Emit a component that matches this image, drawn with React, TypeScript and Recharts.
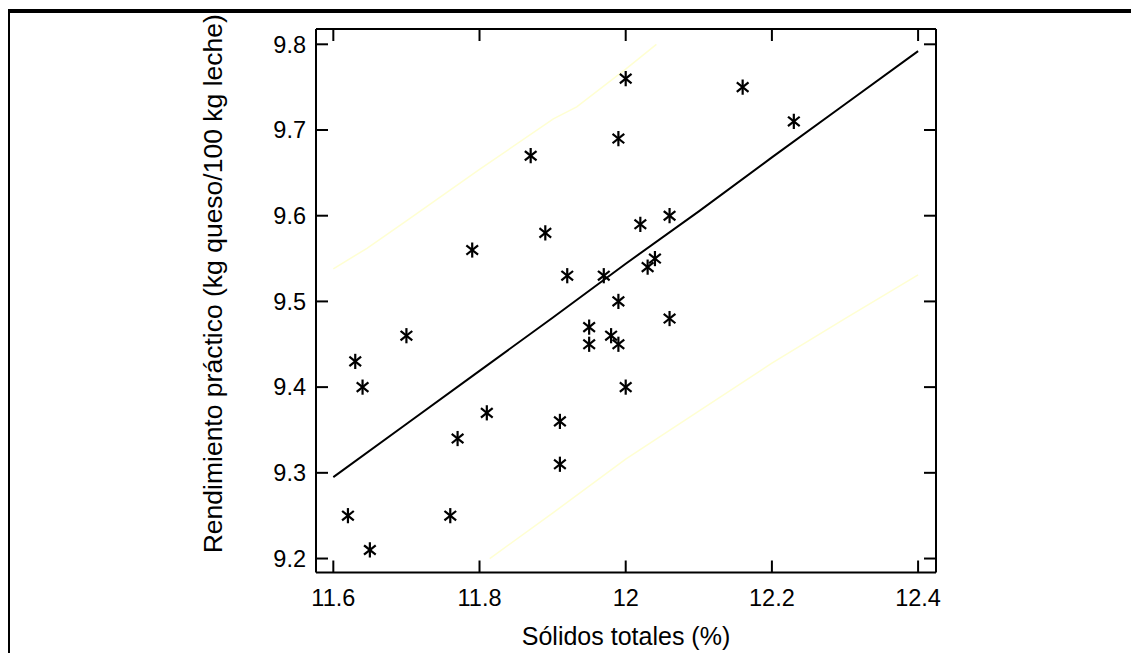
import React from 'react';
import { ComposedChart, XAxis, YAxis, Scatter, Line } from 'recharts';

// Observed data: Sólidos totales (%) vs Rendimiento práctico
const solidosTotales = [11.62, 11.65, 11.63, 11.64, 11.70, 11.76, 11.77, 11.79, 11.81, 11.87, 11.89, 11.91, 11.91, 11.92, 11.95, 11.95, 11.97, 11.98, 11.99, 11.99, 11.99, 12.00, 12.00, 12.02, 12.03, 12.04, 12.06, 12.06, 12.16, 12.23];
const rendimiento = [9.25, 9.21, 9.43, 9.40, 9.46, 9.25, 9.34, 9.56, 9.37, 9.67, 9.58, 9.36, 9.31, 9.53, 9.47, 9.45, 9.53, 9.46, 9.50, 9.45, 9.69, 9.76, 9.40, 9.59, 9.54, 9.55, 9.60, 9.48, 9.75, 9.71];

// Fitted line
const regX = [11.6, 11.7, 11.8, 11.9, 12.0, 12.1, 12.2, 12.3, 12.4];
const regY = [9.295, 9.357, 9.419, 9.481, 9.544, 9.605, 9.668, 9.730, 9.792];

// Prediction band (upper / lower)
const upperX = [11.6, 11.646, 11.7, 11.8, 11.901, 11.933, 12.0, 12.042];
const upperY = [9.538, 9.562, 9.594, 9.654, 9.713, 9.727, 9.771, 9.80];
const lowerX = [11.814, 11.9, 12.0, 12.1, 12.2, 12.3, 12.4];
const lowerY = [9.2, 9.253, 9.316, 9.372, 9.428, 9.48, 9.531];

const xTicks = [11.6, 11.8, 12, 12.2, 12.4];
const yTicks = [9.2, 9.3, 9.4, 9.5, 9.6, 9.7, 9.8];
const xDomain = [11.5763, 12.4245];
const yDomain = [9.1837, 9.81785];

const xTitle = 'Sólidos totales (%)';
const yTitle = 'Rendimiento práctico (kg queso/100 kg leche)';

const zip = (xs: number[], ys: number[]) => xs.map((x, i) => ({ x, y: ys[i] }));
const points = zip(solidosTotales, rendimiento);
const regData = zip(regX, regY);
const upperData = zip(upperX, upperY);
const lowerData = zip(lowerX, lowerY);

const FONT = '"Liberation Sans", Arial, sans-serif';
const TICK_LEN = 12;
const LEFT_MARGIN = 10;
const BOTTOM_MARGIN = 17;

const LeftTick = (props: any) => {
  const { x, y, payload } = props;
  return (
    <g>
      <line x1={x + LEFT_MARGIN} x2={x + LEFT_MARGIN + TICK_LEN} y1={y} y2={y} stroke="#000" strokeWidth={2} />
      <text x={x} y={y} dy="0.355em" textAnchor="end" fontSize={23.5} fontFamily={FONT} fill="#000">
        {String(payload.value)}
      </text>
    </g>
  );
};

const BottomTick = (props: any) => {
  const { x, y, payload } = props;
  return (
    <g>
      <line x1={x} x2={x} y1={y - BOTTOM_MARGIN} y2={y - BOTTOM_MARGIN - TICK_LEN} stroke="#000" strokeWidth={2} />
      <text x={x} y={y} dy="0.71em" textAnchor="middle" fontSize={23.5} fontFamily={FONT} fill="#000">
        {String(payload.value)}
      </text>
    </g>
  );
};

const TopTick = (props: any) => {
  const { x, y } = props;
  return <line x1={x} x2={x} y1={y} y2={y + TICK_LEN} stroke="#000" strokeWidth={2} />;
};

const RightTick = (props: any) => {
  const { x, y } = props;
  return <line x1={x} x2={x - TICK_LEN} y1={y} y2={y} stroke="#000" strokeWidth={2} />;
};

const Asterisk = (props: any) => {
  const { cx, cy } = props;
  if (cx == null || cy == null) return <g />;
  return (
    <g stroke="#000" strokeWidth={2.2} strokeLinecap="square">
      <line x1={cx} x2={cx} y1={cy - 6.5} y2={cy + 6.5} />
      <line x1={cx - 5} x2={cx + 5} y1={cy - 4} y2={cy + 4} />
      <line x1={cx - 5} x2={cx + 5} y1={cy + 4} y2={cy - 4} />
    </g>
  );
};

const renderXTitle = (p: any) => {
  const vb = p.viewBox || {};
  return (
    <text x={vb.x + vb.width / 2} y={vb.y + 72.5} textAnchor="middle" fontSize={25} fontFamily={FONT} fill="#000">
      {xTitle}
    </text>
  );
};

const renderYTitle = (p: any) => {
  const vb = p.viewBox || {};
  const cx = 205;
  const cy = vb.y + vb.height / 2 - 17;
  return (
    <text x={cx} y={cy} transform={`rotate(-90 ${cx} ${cy})`} dy="0.355em" textAnchor="middle" fontSize={26.5} fontFamily={FONT} fill="#000">
      {yTitle}
    </text>
  );
};

export default function App() {
  return (
    <div style={{ position: 'relative', width: 1123, height: 645 }}>
      <div
        style={{
          position: 'absolute',
          left: -2,
          top: 1,
          width: 1133,
          height: 652,
          borderLeft: '4px solid #000',
          borderTop: '4px solid #000',
          boxSizing: 'border-box',
          pointerEvents: 'none',
        }}
      />
      <ComposedChart width={1123} height={645} margin={{ top: 20, right: 194, bottom: 0, left: 0 }}>
        <XAxis
          xAxisId="b"
          type="number"
          dataKey="x"
          domain={xDomain}
          ticks={xTicks}
          allowDataOverflow
          height={80.5}
          axisLine={{ stroke: '#000', strokeWidth: 2 }}
          tickLine={false}
          tickSize={0}
          tickMargin={BOTTOM_MARGIN}
          tick={<BottomTick />}
          interval={0}
          label={{ content: renderXTitle }}
        />
        <XAxis
          xAxisId="t"
          orientation="top"
          type="number"
          dataKey="x"
          domain={xDomain}
          ticks={xTicks}
          allowDataOverflow
          height={1}
          axisLine={{ stroke: '#000', strokeWidth: 2 }}
          tickLine={false}
          tickSize={0}
          tickMargin={0}
          tick={<TopTick />}
          interval={0}
        />
        <YAxis
          yAxisId="l"
          type="number"
          dataKey="y"
          domain={yDomain}
          ticks={yTicks}
          allowDataOverflow
          width={308}
          axisLine={{ stroke: '#000', strokeWidth: 2 }}
          tickLine={false}
          tickSize={0}
          tickMargin={LEFT_MARGIN}
          tick={<LeftTick />}
          interval={0}
          label={{ content: renderYTitle }}
        />
        <YAxis
          yAxisId="r"
          orientation="right"
          type="number"
          dataKey="y"
          domain={yDomain}
          ticks={yTicks}
          allowDataOverflow
          width={1}
          axisLine={{ stroke: '#000', strokeWidth: 2 }}
          tickLine={false}
          tickSize={0}
          tickMargin={0}
          tick={<RightTick />}
          interval={0}
        />
        <Line data={upperData} xAxisId="b" yAxisId="l" dataKey="y" type="linear" stroke="#FFFFD2" strokeWidth={1.5} dot={false} isAnimationActive={false} />
        <Line data={lowerData} xAxisId="b" yAxisId="l" dataKey="y" type="linear" stroke="#FFFFD2" strokeWidth={1.5} dot={false} isAnimationActive={false} />
        <Line data={regData} xAxisId="b" yAxisId="l" dataKey="y" type="linear" stroke="#000" strokeWidth={2} dot={false} isAnimationActive={false} />
        <Scatter data={points} xAxisId="b" yAxisId="l" dataKey="y" shape={<Asterisk />} isAnimationActive={false} />
      </ComposedChart>
    </div>
  );
}
